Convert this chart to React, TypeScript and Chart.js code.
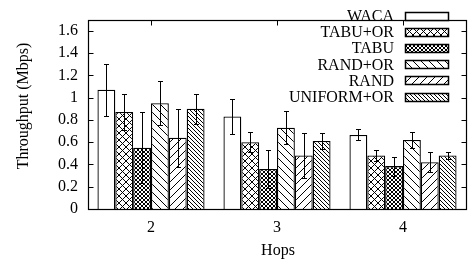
import React, { useEffect, useRef } from 'react';
import { Chart, registerables } from 'chart.js';
Chart.register(...registerables);

const categories = ['2', '3', '4'];
const seriesNames = ['WACA', 'TABU+OR', 'TABU', 'RAND+OR', 'RAND', 'UNIFORM+OR'];
const waca = [1.07, 0.83, 0.665];
const wacaErr = [0.235, 0.16, 0.05];
const tabuOr = [0.87, 0.6, 0.48];
const tabuOrErr = [0.165, 0.09, 0.05];
const tabu = [0.55, 0.36, 0.385];
const tabuErr = [0.32, 0.17, 0.085];
const randOr = [0.95, 0.73, 0.62];
const randOrErr = [0.2, 0.15, 0.075];
const rand = [0.64, 0.48, 0.42];
const randErr = [0.26, 0.2, 0.09];
const uniformOr = [0.9, 0.61, 0.48];
const uniformOrErr = [0.135, 0.07, 0.033];
const yTicks = [0, 0.2, 0.4, 0.6, 0.8, 1, 1.2, 1.4, 1.6];
const yMax = 1.7;
const xTitle = 'Hops';
const yTitle = 'Throughput (Mbps)';

const seriesValues = [waca, tabuOr, tabu, randOr, rand, uniformOr];
const seriesErrors = [wacaErr, tabuOrErr, tabuErr, randOrErr, randErr, uniformOrErr];
const patternKinds = ['none', 'cross', 'dense', 'back', 'fwd', 'backDense'];

const FONT = '"Liberation Serif", "Times New Roman", serif';

function makePattern(kind: string): CanvasPattern | string {
  if (kind === 'none') return '#ffffff';
  const p = kind === 'dense' ? 4 : kind === 'backDense' ? 4 : kind === 'cross' ? 7 : 8;
  const c = document.createElement('canvas');
  c.width = p;
  c.height = p;
  const g = c.getContext('2d')!;
  g.fillStyle = '#ffffff';
  g.fillRect(0, 0, p, p);
  g.strokeStyle = '#000000';
  g.lineWidth = 1;
  const back = () => {
    g.beginPath();
    g.moveTo(-1, -1); g.lineTo(p + 1, p + 1);
    g.moveTo(-1 - p, -1); g.lineTo(1, p + 1);
    g.moveTo(p - 1, -1); g.lineTo(2 * p + 1, p + 1);
    g.stroke();
  };
  const fwd = () => {
    g.beginPath();
    g.moveTo(-1, p + 1); g.lineTo(p + 1, -1);
    g.moveTo(-1 - p, p + 1); g.lineTo(1, -1);
    g.moveTo(p - 1, p + 1); g.lineTo(2 * p + 1, -1);
    g.stroke();
  };
  if (kind === 'cross' || kind === 'dense') {
    back();
    fwd();
  } else if (kind === 'back' || kind === 'backDense') {
    back();
  } else if (kind === 'fwd') {
    fwd();
  }
  return g.createPattern(c, 'repeat')!;
}

const framePlugin = {
  id: 'frame',
  afterDatasetsDraw(chart: any) {
    const { ctx, chartArea: a, scales } = chart;
    const x = scales.x;
    const y = scales.y;
    ctx.save();
    // error bars
    ctx.strokeStyle = '#000';
    ctx.lineWidth = 1;
    chart.data.datasets.forEach((ds: any, i: number) => {
      const meta = chart.getDatasetMeta(i);
      meta.data.forEach((el: any, j: number) => {
        const v = seriesValues[i][j];
        const e = seriesErrors[i][j];
        const px = Math.round(el.x) + 0.5;
        const yt = Math.round(y.getPixelForValue(v + e)) + 0.5;
        const yb = Math.round(y.getPixelForValue(v - e)) + 0.5;
        ctx.beginPath();
        ctx.moveTo(px, yt); ctx.lineTo(px, yb);
        ctx.moveTo(px - 2.5, yt); ctx.lineTo(px + 2.5, yt);
        ctx.moveTo(px - 2.5, yb); ctx.lineTo(px + 2.5, yb);
        ctx.stroke();
      });
    });
    // frame
    ctx.lineWidth = 1.2;
    const L = Math.round(a.left) + 0.5, R = Math.round(a.right) + 0.5;
    const T = Math.round(a.top) + 0.5, B = Math.round(a.bottom) + 0.5;
    ctx.strokeRect(L, T, R - L, B - T);
    ctx.lineWidth = 1;
    ctx.beginPath();
    yTicks.forEach((t) => {
      const py = Math.round(y.getPixelForValue(t)) + 0.5;
      ctx.moveTo(L, py); ctx.lineTo(L + 5, py);
      ctx.moveTo(R, py); ctx.lineTo(R - 5, py);
    });
    categories.forEach((_c, i) => {
      const px = Math.round(x.getPixelForValue(i)) + 0.5;
      ctx.moveTo(px, T); ctx.lineTo(px, T + 5);
      ctx.moveTo(px, B); ctx.lineTo(px, B - 5);
    });
    ctx.stroke();
    // legend
    ctx.font = '16px ' + FONT;
    ctx.fillStyle = '#000';
    ctx.textAlign = 'right';
    ctx.textBaseline = 'middle';
    ctx.lineWidth = 1.5;
    seriesNames.forEach((name, i) => {
      const cy = 16 + i * 16.1;
      ctx.fillText(name, 394, cy + 1);
      const bx = 405.5, by = Math.round(cy - 4) + 0.5;
      ctx.fillStyle = chart.data.datasets[i].backgroundColor;
      ctx.fillRect(bx, by, 43, 8);
      ctx.strokeRect(bx, by, 43, 8);
      ctx.fillStyle = '#000';
    });
    // titles
    ctx.textAlign = 'center';
    ctx.fillText(xTitle, 278, 251);
    ctx.save();
    ctx.translate(24, 106);
    ctx.rotate(-Math.PI / 2);
    ctx.fillText(yTitle, 0, 0);
    ctx.restore();
    ctx.restore();
  },
};

export default function App() {
  const ref = useRef<HTMLCanvasElement>(null);
  useEffect(() => {
    document.body.style.margin = '0';
    const chart = new Chart(ref.current!, {
      type: 'bar',
      data: {
        labels: categories,
        datasets: seriesNames.map((name, i) => ({
          label: name,
          data: seriesValues[i],
          backgroundColor: makePattern(patternKinds[i]) as any,
          borderColor: '#000',
          borderWidth: 1.3,
          categoryPercentage: 0.85,
          barPercentage: 1,
        })),
      },
      options: {
        animation: false,
        responsive: false,
        maintainAspectRatio: false,
        devicePixelRatio: 1,
        layout: { padding: { top: 3, right: 7, left: 0, bottom: 0 } },
        plugins: { legend: { display: false }, tooltip: { enabled: false } },
        scales: {
          x: {
            grid: { display: false, drawTicks: false },
            border: { display: false },
            ticks: { font: { family: FONT, size: 16 }, color: '#000', padding: 9 },
            afterFit: (s: any) => { s.height = 57; },
          },
          y: {
            min: 0,
            max: yMax,
            grid: { display: false, drawTicks: false },
            border: { display: false },
            ticks: {
              stepSize: 0.2,
              font: { family: FONT, size: 16 },
              color: '#000',
              padding: 10,
              callback: (v: any) => String(Math.round(Number(v) * 10) / 10),
            },
            afterBuildTicks: (s: any) => { s.ticks = yTicks.map((v) => ({ value: v })); },
            afterFit: (s: any) => { s.width = 88; },
          },
        },
      },
      plugins: [framePlugin],
    });
    return () => chart.destroy();
  }, []);
  return (
    <div style={{ position: 'absolute', left: 0, top: 0, width: 473, height: 266 }}>
      <canvas ref={ref} width={473} height={266} style={{ width: 473, height: 266 }} />
    </div>
  );
}
